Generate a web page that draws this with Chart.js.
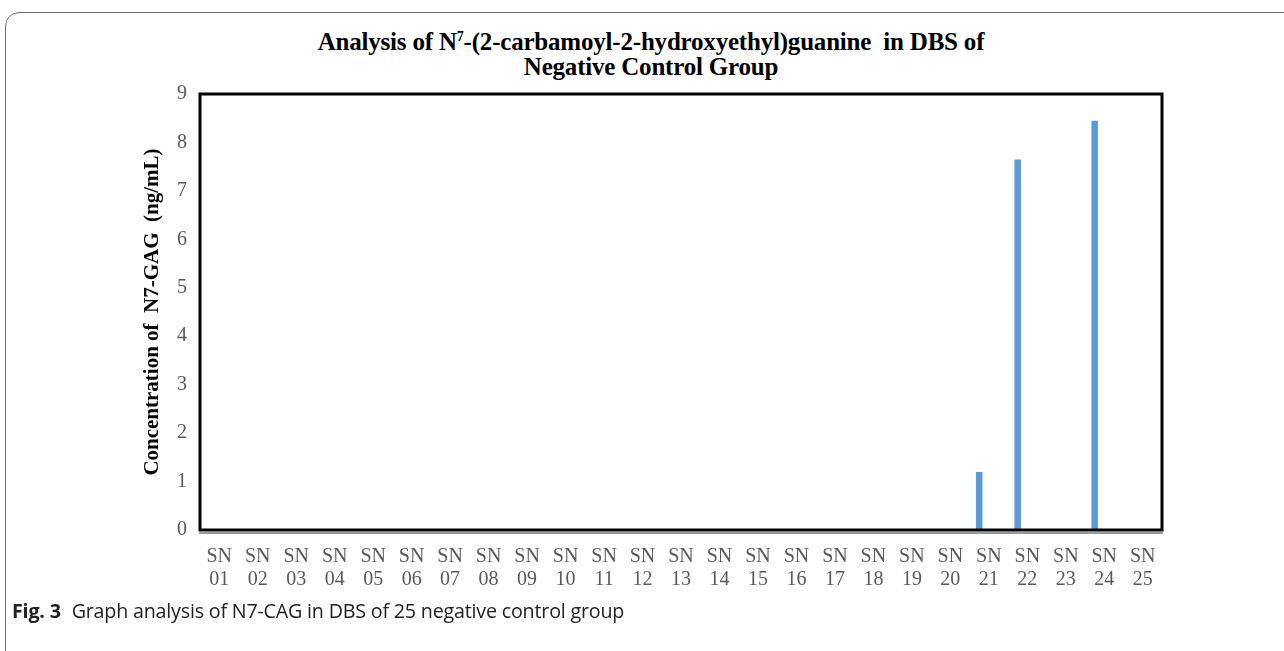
<!DOCTYPE html>
<html>
<head>
<meta charset="utf-8">
<script src="https://cdn.jsdelivr.net/npm/chart.js@4"></script>
<style>
  html, body { margin: 0; padding: 0; background: #fff; }
  body { width: 1284px; height: 651px; position: relative; overflow: hidden; }
  #frame {
    position: absolute; left: 5px; top: 12px; width: 1320px; height: 700px;
    border: 1px solid #6f6f6f; border-radius: 14px; box-sizing: border-box;
  }
  #title {
    position: absolute; left: 0; width: 1302px; top: 29px; text-align: center;
    font: bold 25px "Liberation Serif", serif; line-height: 25px; color: #000;
    letter-spacing: -0.2px;
  }
  #title sup { font-size: 14px; vertical-align: 9px; line-height: 0; }
  #wrap { position: absolute; left: 0; top: 0; width: 1284px; height: 610px; }
  #caption {
    position: absolute; left: 12px; top: 597px;
    font: 19.7px "Open Sans", sans-serif; color: #222; letter-spacing: -0.2px;
  }
  #caption b { font-weight: 700; margin-right: 6px; }
</style>
</head>
<body>
<div id="frame"></div>
<div id="title">Analysis of N<sup>7</sup>-(2-carbamoyl-2-hydroxyethyl)guanine&nbsp; in DBS of<br>Negative Control Group</div>
<div id="wrap"><canvas id="chart"></canvas></div>
<div id="caption"><b>Fig. 3</b> Graph analysis of N7-CAG in DBS of 25 negative control group</div>
<script>
const categories = [
  "01", "02", "03", "04", "05", "06", "07", "08", "09", "10",
  "11", "12", "13", "14", "15", "16", "17", "18", "19", "20",
  "21", "22", "23", "24", "25"
];
const concentration = [
  0, 0, 0, 0, 0, 0, 0, 0, 0, 0,
  0, 0, 0, 0, 0, 0, 0, 0, 0, 0,
  1.2, 7.65, 0, 8.45, 0
];
// second series of the source sheet holds no values; it only keeps the slot
const emptySeries = [
  null, null, null, null, null, null, null, null, null, null,
  null, null, null, null, null, null, null, null, null, null,
  null, null, null, null, null
];
const yTicks = [0, 1, 2, 3, 4, 5, 6, 7, 8, 9];

// heavy black box round the plot, doubled line at the base
const plotFrame = {
  id: "plotFrame",
  afterDraw(chart) {
    const { ctx, chartArea: a } = chart;
    ctx.save();
    ctx.strokeStyle = "#000";
    ctx.lineWidth = 3;
    ctx.strokeRect(a.left, a.top, a.right - a.left, a.bottom - a.top);
    ctx.strokeStyle = "#9a9a9a";
    ctx.lineWidth = 2;
    ctx.beginPath();
    ctx.moveTo(a.left - 1, a.bottom + 3);
    ctx.lineTo(a.right + 1, a.bottom + 3);
    ctx.stroke();
    ctx.restore();
  }
};

new Chart(document.getElementById("chart"), {
  type: "bar",
  data: {
    labels: categories.map(c => ["SN", c]),
    datasets: [
      { data: concentration, backgroundColor: "#5b9bd5" },
      { data: emptySeries, backgroundColor: "#ed7d31" }
    ]
  },
  options: {
    responsive: true,
    maintainAspectRatio: false,
    animation: false,
    datasets: { bar: { barPercentage: 0.34, categoryPercentage: 1.0 } },
    layout: { padding: { left: 140, top: 94, right: 122, bottom: 4 } },
    plugins: {
      legend: { display: false },
      tooltip: { enabled: false }
    },
    scales: {
      x: {
        grid: { display: false, drawTicks: false },
        border: { display: false },
        ticks: {
          color: "#595959",
          font: { family: "Liberation Serif", size: 20, lineHeight: 1.15 },
          padding: 15,
          maxRotation: 0,
          autoSkip: false
        }
      },
      y: {
        min: 0,
        max: 9,
        afterFit(scale) { scale.width = 60; },
        afterBuildTicks(scale) { scale.ticks = yTicks.map(v => ({ value: v })); },
        grid: { display: false, drawTicks: false },
        border: { display: false },
        ticks: {
          color: "#595959",
          font: { family: "Liberation Serif", size: 20 },
          padding: 13
        },
        title: {
          display: true,
          text: "Concentration of  N7-GAG  (ng/mL)",
          color: "#000",
          font: { family: "Liberation Serif", size: 21, weight: "bold" },
          padding: { top: 0, bottom: 0 }
        }
      }
    }
  },
  plugins: [plotFrame]
});
</script>
</body>
</html>
